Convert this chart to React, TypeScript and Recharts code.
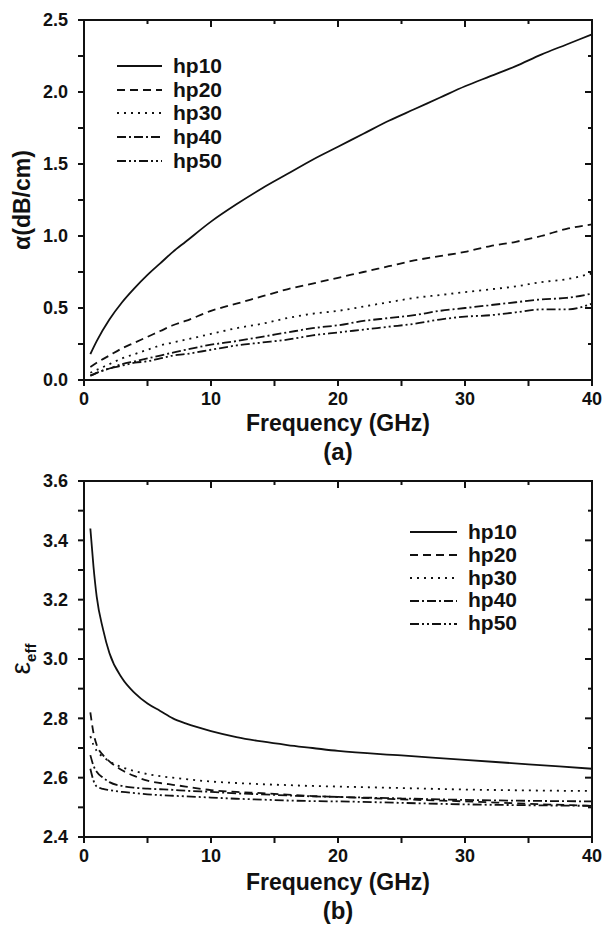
import { LineChart, Line, XAxis, YAxis, Label, ReferenceLine } from "recharts";

const INK = "#111";
const FONT = '"Liberation Sans", Arial, Helvetica, sans-serif';

// ---- (a) attenuation vs frequency ----
const freqA = [0.5, 1, 2, 3, 4, 5, 6, 7, 8, 10, 12, 14, 16, 18, 20, 22, 24, 26, 28, 30, 32, 34, 36, 38, 40];
const alphaHp10 = [0.18, 0.27, 0.42, 0.54, 0.64, 0.73, 0.81, 0.89, 0.96, 1.1, 1.22, 1.33, 1.43, 1.53, 1.62, 1.71, 1.8, 1.88, 1.96, 2.04, 2.11, 2.18, 2.26, 2.33, 2.4];
const alphaHp20 = [0.09, 0.12, 0.17, 0.22, 0.26, 0.3, 0.34, 0.38, 0.41, 0.48, 0.53, 0.58, 0.63, 0.67, 0.71, 0.75, 0.79, 0.83, 0.86, 0.89, 0.93, 0.96, 1.0, 1.05, 1.08];
const alphaHp30 = [0.05, 0.07, 0.11, 0.15, 0.18, 0.21, 0.24, 0.26, 0.28, 0.32, 0.36, 0.39, 0.43, 0.46, 0.48, 0.51, 0.54, 0.57, 0.59, 0.61, 0.63, 0.65, 0.68, 0.7, 0.74];
const alphaHp40 = [0.03, 0.05, 0.08, 0.11, 0.13, 0.15, 0.17, 0.19, 0.21, 0.245, 0.27, 0.3, 0.33, 0.36, 0.38, 0.41, 0.43, 0.45, 0.48, 0.5, 0.52, 0.54, 0.56, 0.57, 0.6];
const alphaHp50 = [0.03, 0.05, 0.08, 0.1, 0.12, 0.13, 0.15, 0.17, 0.18, 0.21, 0.24, 0.26, 0.28, 0.31, 0.33, 0.35, 0.37, 0.39, 0.42, 0.44, 0.45, 0.47, 0.49, 0.49, 0.53];

// ---- (b) effective permittivity vs frequency ----
const freqB = [0.5, 0.75, 1, 1.5, 2, 3, 4, 5, 6, 7, 8, 10, 12, 14, 16, 18, 20, 25, 30, 35, 40];
const epsHp10 = [3.44, 3.31, 3.21, 3.1, 3.02, 2.935, 2.885, 2.85, 2.825, 2.8, 2.783, 2.757, 2.737, 2.722, 2.71, 2.7, 2.69, 2.675, 2.66, 2.645, 2.63];
const epsHp20 = [2.82, 2.75, 2.71, 2.676, 2.655, 2.625, 2.605, 2.59, 2.582, 2.576, 2.57, 2.558, 2.552, 2.548, 2.543, 2.538, 2.535, 2.527, 2.52, 2.512, 2.505];
const epsHp30 = [2.74, 2.71, 2.69, 2.67, 2.655, 2.635, 2.622, 2.612, 2.605, 2.6, 2.595, 2.587, 2.582, 2.578, 2.575, 2.572, 2.57, 2.565, 2.56, 2.557, 2.555];
const epsHp40 = [2.676, 2.64, 2.62, 2.6, 2.585, 2.572, 2.566, 2.563, 2.561, 2.559, 2.556, 2.552, 2.547, 2.544, 2.54, 2.537, 2.535, 2.53, 2.525, 2.522, 2.52];
const epsHp50 = [2.63, 2.59, 2.57, 2.562, 2.558, 2.552, 2.548, 2.544, 2.541, 2.539, 2.537, 2.533, 2.529, 2.526, 2.523, 2.521, 2.52, 2.515, 2.51, 2.507, 2.505];

const seriesNames = ["hp10", "hp20", "hp30", "hp40", "hp50"];
const freqTicks = [0, 5, 10, 15, 20, 25, 30, 35, 40];
const alphaTicks = [0, 0.25, 0.5, 0.75, 1, 1.25, 1.5, 1.75, 2, 2.25, 2.5];
const epsTicks = [2.4, 2.5, 2.6, 2.7, 2.8, 2.9, 3.0, 3.1, 3.2, 3.3, 3.4, 3.5, 3.6];

const dashes: Record<string, string | undefined> = {
  hp10: undefined,
  hp20: "8 5",
  hp30: "2 5",
  hp40: "9 3 2 3",
  hp50: "9 3 2 3 2 3",
};

const dataA = freqA.map((f, i) => ({
  f,
  hp10: alphaHp10[i],
  hp20: alphaHp20[i],
  hp30: alphaHp30[i],
  hp40: alphaHp40[i],
  hp50: alphaHp50[i],
}));

const dataB = freqB.map((f, i) => ({
  f,
  hp10: epsHp10[i],
  hp20: epsHp20[i],
  hp30: epsHp30[i],
  hp40: epsHp40[i],
  hp50: epsHp50[i],
}));

const near = (a: number, b: number) => Math.abs(a - b) < 1e-6;
const freqMajor = (v: number) => near(v % 10, 0);
const alphaMajor = (v: number) => near(v * 2, Math.round(v * 2));
const epsMajor = (v: number) => Math.round(v * 10) % 2 === 0;

const labelStyle = { fontFamily: FONT, fontWeight: 700, fontSize: 18, fill: INK };

const CHART_W = 604;
const TICK = 6;

// built-in tick lines point outwards (tickSize TICK); the label sits past them.
// Each tick also draws an inward mark on the opposite (top/right) edge of the frame.
function xTick(isMajor: (v: number) => boolean, top: number) {
  return (props: any) => {
    const { x, y, payload } = props;
    const major = isMajor(payload.value);
    return (
      <g>
        <path d={`M${x},${top}v${major ? 7 : 4}`} stroke={INK} strokeWidth={2} fill="none" />
        {major && (
          <text x={x} y={y + 13} textAnchor="middle" style={labelStyle}>
            {payload.value}
          </text>
        )}
      </g>
    );
  };
}

function yTick(isMajor: (v: number) => boolean, right: number) {
  return (props: any) => {
    const { x, y, payload } = props;
    const major = isMajor(payload.value);
    return (
      <g>
        <path d={`M${right},${y}h${major ? -7 : -4}`} stroke={INK} strokeWidth={2} fill="none" />
        {major && (
          <text x={x - 4} y={y} dy="0.36em" textAnchor="end" style={labelStyle}>
            {payload.value.toFixed(1)}
          </text>
        )}
      </g>
    );
  };
}

const titleStyle = { fontFamily: FONT, fontWeight: 700, fontSize: 23, fill: INK };

function xTitle(tag: string, off: number) {
  return (props: any) => {
    const vb = props.viewBox || {};
    const cx = vb.x + vb.width / 2;
    return (
      <g>
        <text x={cx} y={vb.y + off} textAnchor="middle" style={titleStyle}>
          Frequency (GHz)
        </text>
        <text x={cx} y={vb.y + off + 29} textAnchor="middle" style={{ ...titleStyle, fontSize: 24 }}>
          ({tag})
        </text>
      </g>
    );
  };
}

function yTitle(kind: "alpha" | "eps") {
  return (props: any) => {
    const vb = props.viewBox || {};
    const cy = vb.y + vb.height / 2;
    const cx = 22;
    return (
      <text
        x={cx}
        y={cy}
        transform={`rotate(-90 ${cx} ${cy})`}
        textAnchor="middle"
        dy="0.35em"
        style={titleStyle}
      >
        {kind === "alpha" ? (
          "α(dB/cm)"
        ) : (
          <>
            <tspan style={{ fontWeight: 400, fontSize: 28 }}>ε</tspan>
            <tspan dy={6} style={{ fontSize: 15 }}>eff</tspan>
          </>
        )}
      </text>
    );
  };
}

function LegendBox({ left, top, lineW, rowH }: { left: number; top: number; lineW: number; rowH: number }) {
  return (
    <div
      style={{
        position: "absolute",
        left,
        top,
        fontFamily: FONT,
        fontWeight: 700,
        fontSize: 21,
        color: INK,
        pointerEvents: "none",
      }}
    >
      {seriesNames.map((name) => (
        <div key={name} style={{ display: "flex", alignItems: "center", height: rowH }}>
          <svg width={lineW} height={6} style={{ marginRight: 11 }}>
            <line x1={0} x2={lineW} y1={3} y2={3} stroke={INK} strokeWidth={1.8} strokeDasharray={dashes[name]} />
          </svg>
          <span style={{ lineHeight: `${rowH}px` }}>{name}</span>
        </div>
      ))}
    </div>
  );
}

// top/right edges of the plot box, laid over the chart
function BoxEdge({ left, top, width, height }: { left: number; top: number; width: number; height: number }) {
  return (
    <div
      style={{
        position: "absolute",
        left: left - 1,
        top: top - 1,
        width,
        height,
        borderTop: `2px solid ${INK}`,
        borderRight: `2px solid ${INK}`,
        pointerEvents: "none",
      }}
    />
  );
}

function Frame({ data, yTicks, yDomain, yMajor, kind, tag, height, margin, xHeight, titleOff }: any) {
  const right = CHART_W - margin.right;
  return (
    <LineChart width={CHART_W} height={height} data={data} margin={margin}>
      <XAxis
        xAxisId="b"
        dataKey="f"
        type="number"
        domain={[0, 40]}
        ticks={freqTicks}
        interval={0}
        height={xHeight}
        tickSize={TICK}
        tickMargin={6}
        tickLine={{ stroke: INK, strokeWidth: 2 }}
        axisLine={{ stroke: INK, strokeWidth: 2 }}
        tick={xTick(freqMajor, margin.top)}
      >
        <Label content={xTitle(tag, titleOff)} />
      </XAxis>
      <YAxis
        yAxisId="l"
        type="number"
        domain={yDomain}
        ticks={yTicks}
        interval={0}
        width={84}
        tickSize={TICK}
        tickMargin={6}
        tickLine={{ stroke: INK, strokeWidth: 2 }}
        axisLine={{ stroke: INK, strokeWidth: 2 }}
        tick={yTick(yMajor, right)}
      >
        <Label content={yTitle(kind)} />
      </YAxis>
      <ReferenceLine xAxisId="b" yAxisId="l" y={yDomain[1]} stroke={INK} strokeWidth={2} ifOverflow="visible" />
      <ReferenceLine xAxisId="b" yAxisId="l" x={40} stroke={INK} strokeWidth={2} ifOverflow="visible" />
      {seriesNames.map((name) => (
        <Line
          key={name}
          xAxisId="b"
          yAxisId="l"
          dataKey={name}
          type="monotone"
          stroke={INK}
          strokeWidth={1.8}
          strokeDasharray={dashes[name]}
          dot={false}
          isAnimationActive={false}
        />
      ))}
    </LineChart>
  );
}

export default function App() {
  return (
    <div style={{ position: "absolute", left: 0, top: 0, width: 604, height: 931, background: "#fff" }}>
      <div style={{ position: "absolute", left: 0, top: 0 }}>
        <Frame
          data={dataA}
          yTicks={alphaTicks}
          yDomain={[0, 2.5]}
          yMajor={alphaMajor}
          kind="alpha"
          tag="a"
          height={470}
          margin={{ top: 20, right: 12, bottom: 0, left: 0 }}
          xHeight={90}
          titleOff={51}
        />
      </div>
      <div style={{ position: "absolute", left: 0, top: 470 }}>
        <Frame
          data={dataB}
          yTicks={epsTicks}
          yDomain={[2.4, 3.6]}
          yMajor={epsMajor}
          kind="eps"
          tag="b"
          height={461}
          margin={{ top: 11, right: 12, bottom: 0, left: 0 }}
          xHeight={94}
          titleOff={53}
        />
      </div>
      <BoxEdge left={84} top={20} width={508} height={360} />
      <BoxEdge left={84} top={481} width={508} height={356} />
      <LegendBox left={117} top={54} lineW={45} rowH={23.7} />
      <LegendBox left={410} top={521} lineW={47} rowH={22.8} />
    </div>
  );
}
